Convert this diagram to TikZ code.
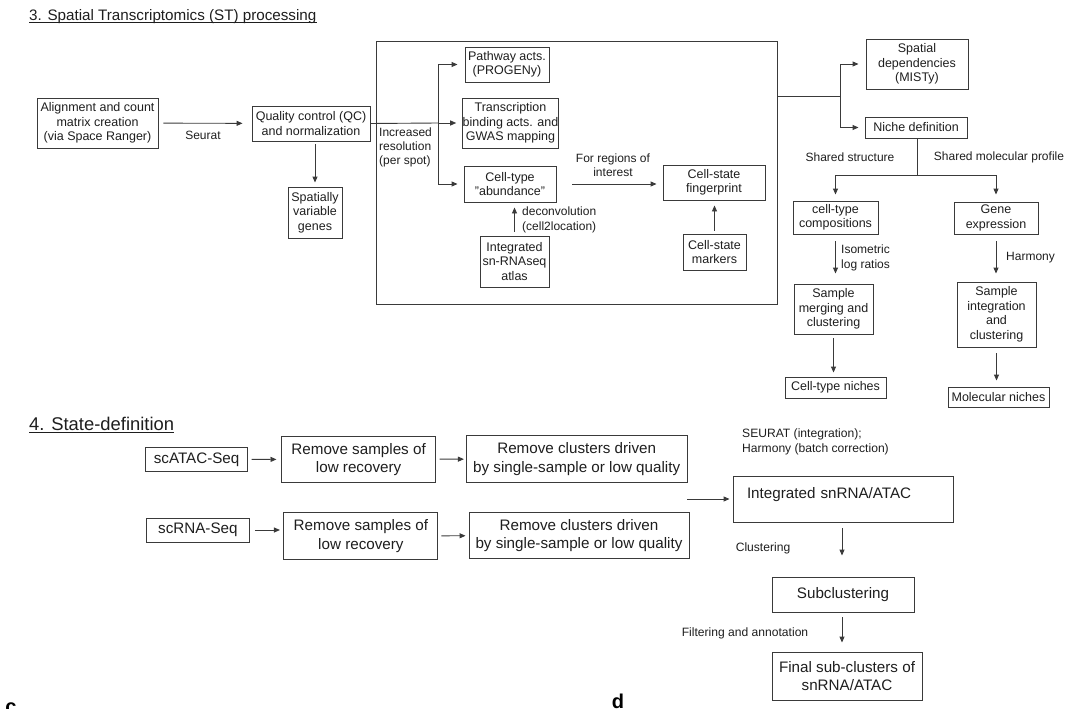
\documentclass[tikz,border=0pt]{standalone}
\usepackage{fontspec}
\setmainfont{Liberation Sans}
\usetikzlibrary{arrows.meta,positioning,calc}
\definecolor{stline}{HTML}{3A3A3A}
\definecolor{sttext}{HTML}{1E1E1E}

\begin{document}
\begin{tikzpicture}[
    x=1pt, y=-1pt,
    box/.style={rectangle, draw=stline, line width=0.9pt, inner sep=2pt,
                align=center, text=sttext, font=\fontsize{12.5}{14.5}\selectfont},
    wbox/.style={box, font=\fontsize{15.2}{18.3}\selectfont},
    lbl/.style={inner sep=0pt, text=sttext, font=\fontsize{12}{14.3}\selectfont},
    ttl/.style={anchor=base west, inner sep=0pt, text=sttext},
    arr/.style={-{Triangle[length=6pt,width=5pt]}, line width=0.9pt, stline},
    ln/.style={line width=0.9pt, stline}
]
\useasboundingbox (0,0) rectangle (1080,709);

% 3. spatial transcriptomics
\node[ttl, font=\fontsize{15.2}{18}\selectfont] (t3) at (29,21) {3. Spatial Transcriptomics (ST) processing};
\draw[line width=0.7pt, sttext] ([yshift=-1.5pt]t3.base west) -- ([yshift=-1.5pt]t3.base east);

\node[box, minimum width=121pt, minimum height=50pt] (align) at (97.5,123) {Alignment and count\\matrix creation\\(via Space Ranger)};
\node[box, minimum width=118pt, minimum height=35pt] (qc) at (311,123.5) {Quality control (QC)\\and normalization};
\node[box, minimum width=54pt, minimum height=51pt] (svg) at (315,212.5) {Spatially\\variable\\genes};

\node[draw=stline, line width=0.9pt, minimum width=401pt, minimum height=263pt, inner sep=0pt] (frame) at (576.5,172.5) {};
\node[box, minimum width=84pt, minimum height=35pt] (pathway) at (507,64.5) {Pathway acts.\\(PROGENy)};
\node[box, inner xsep=0pt, minimum width=93pt, minimum height=50pt] (tf) at (510.5,123) {Transcription\\binding acts. and\\GWAS mapping};
\node[box, minimum width=92pt, minimum height=36pt] (celltype) at (510,184) {Cell-type\\"abundance"};
\node[box, minimum width=69pt, minimum height=51pt] (atlas) at (514.5,261.5) {Integrated\\sn-RNAseq\\atlas};
\node[box, minimum width=102pt, minimum height=35pt] (fprint) at (714,182.5) {Cell-state\\fingerprint};
\node[box, minimum width=63pt, minimum height=36pt] (markers) at (714.5,252) {Cell-state\\markers};

\node[box, minimum width=102pt, minimum height=50pt] (misty) at (917,64) {Spatial\\dependencies\\(MISTy)};
\node[box, minimum width=102pt, minimum height=21pt] (niche) at (916,127.5) {Niche definition};
\node[box, minimum width=85pt, minimum height=33pt] (comp) at (835.5,217.5) {cell-type\\compositions};
\node[box, minimum width=84pt, minimum height=32pt] (gene) at (996,218) {Gene\\expression};
\node[box, minimum width=79pt, minimum height=50pt] (merging) at (833.5,309) {Sample\\merging and\\clustering};
\node[box, minimum width=101pt, minimum height=21pt] (ctniche) at (835.5,387.5) {Cell-type niches};
\node[box, minimum width=79pt, minimum height=65pt] (integ) at (996.5,314.5) {Sample\\integration\\and\\clustering};
\node[box, minimum width=101pt, minimum height=20pt] (molniche) at (998.5,397) {Molecular niches};

\coordinate (split) at (438,123);
\coordinate (split2) at (840,96);
\coordinate (nj) at (917,175);

\draw[arr, shorten <=5pt, shorten >=9pt] (align) -- (qc);
\draw[arr, shorten <=3pt, shorten >=4pt] (svg.north |- qc.south) -- (svg.north);
\draw[ln] (qc.east) -- (split);
\draw[arr, shorten >=6pt] (split) -- (tf.west);
\draw[arr, shorten >=7pt] (split) |- (pathway.west);
\draw[arr, shorten >=6pt] (split) |- (celltype.west);
\draw[arr, shorten <=16pt, shorten >=6pt] (celltype.east) -- (fprint.west |- celltype.east);
\draw[arr, shorten <=4pt, shorten >=5pt] (atlas) -- (atlas |- celltype.south);
\draw[arr, shorten <=3pt, shorten >=5pt] (markers) -- (markers |- fprint.south);

\draw[ln] (frame.east |- split2) -- (split2);
\draw[arr, shorten >=7pt] (split2) |- (misty.west);
\draw[arr, shorten >=6pt] (split2) |- (niche.west);
\draw[ln] (niche.south -| nj) -- (nj);
\draw[arr, shorten >=6pt] (nj) -| (comp.north);
\draw[arr, shorten >=7pt] (nj) -| (gene.north);
\draw[arr, shorten <=7pt, shorten >=10pt] (comp) -- (comp |- merging.north);
\draw[arr, shorten <=4pt, shorten >=4pt] (merging) -- (merging |- ctniche.north);
\draw[arr, shorten <=7pt, shorten >=8pt] (gene) -- (gene |- integ.north);
\draw[arr, shorten <=6pt, shorten >=6pt] (integ) -- (integ |- molniche.north);

\node[lbl] (seurat) at (203,135) {Seurat};
\node[lbl, anchor=west, align=left] (incres) at (379,147.5) {Increased\\resolution\\(per spot)};
\node[lbl, align=center] (forroi) at (613,165) {For regions of\\interest};
\node[lbl, anchor=west, align=left] (deconv) at (522,220) {deconvolution\\(cell2location)};
\node[lbl] (shstruct) at (850,157) {Shared structure};
\node[lbl] (shmol) at (999,157) {Shared molecular profile};
\node[lbl, anchor=west, align=left] (ilr) at (841,258) {Isometric\\log ratios};
\node[lbl, anchor=west] (harm) at (1006,258) {Harmony};

% 4. state definition
\node[ttl, font=\fontsize{18.4}{21}\selectfont] (t4) at (29,430) {4. State-definition};
\draw[line width=0.7pt, sttext] ([yshift=-2pt]t4.base west) -- ([yshift=-2pt]t4.base east);

\node[wbox, minimum width=102pt, minimum height=24.4pt] (atac) at (196.6,459.5) {scATAC-Seq};
\node[wbox, minimum width=154.3pt, minimum height=46.7pt] (rmsa) at (358.6,459.3) {Remove samples of\\low recovery};
\node[wbox, minimum width=220.6pt, minimum height=46.6pt] (rmca) at (576.7,459) {Remove clusters driven\\by single-sample or low quality};
\node[wbox, minimum width=103pt, minimum height=24pt] (rna) at (197.9,530) {scRNA-Seq};
\node[wbox, minimum width=154pt, minimum height=46.6pt] (rmsr) at (360.9,536) {Remove samples of\\low recovery};
\node[wbox, minimum width=220pt, minimum height=45.6pt] (rmcr) at (579,535.5) {Remove clusters driven\\by single-sample or low quality};

\node[wbox, align=left, text width=192pt, inner xsep=14pt, inner ysep=3pt,
      text height=19pt, text depth=21pt] (merged) at (843,499) {Integrated snRNA/ATAC};
\node[wbox, minimum width=142pt, minimum height=35pt] (subclust) at (843,594.5) {Subclustering};
\node[wbox, minimum width=150pt, minimum height=48pt] (final) at (847,676) {Final sub-clusters of\\snRNA/ATAC};

\coordinate (join) at (687,499);

\draw[arr, shorten <=3.5pt, shorten >=4.5pt] (atac) -- (rmsa);
\draw[arr, shorten <=3.5pt, shorten >=2pt] (rmsa) -- (rmca);
\draw[arr, shorten <=5pt, shorten >=3.5pt] (rna) -- (rmsr.west |- rna);
\draw[arr, shorten <=3pt, shorten >=3pt] (rmsr) -- (rmcr);
\draw[arr, shorten >=3pt] (join) -- (merged);
\draw[arr, shorten <=6pt, shorten >=21pt] (merged.south -| 842,0) -- (subclust.north -| 842,0);
\draw[arr, shorten <=5pt, shorten >=9pt] (subclust.south -| 842,0) -- (final.north -| 842,0);

\node[lbl, anchor=west, align=left, font=\fontsize{12.1}{15}\selectfont] (seur4) at (742,441.5) {SEURAT (integration);\\Harmony (batch correction)};
\node[lbl, font=\fontsize{12.1}{15}\selectfont] (clus) at (763,548) {Clustering};
\node[lbl, font=\fontsize{12.1}{15}\selectfont] (filt) at (745,633) {Filtering and annotation};

% panel letters, cut at the lower edge
\node[anchor=base, inner sep=0pt, font=\bfseries\fontsize{20}{20}\selectfont] (pc) at (11,713) {c};
\node[anchor=base, inner sep=0pt, font=\bfseries\fontsize{20}{20}\selectfont] (pd) at (618,708) {d};
\end{tikzpicture}
\end{document}
